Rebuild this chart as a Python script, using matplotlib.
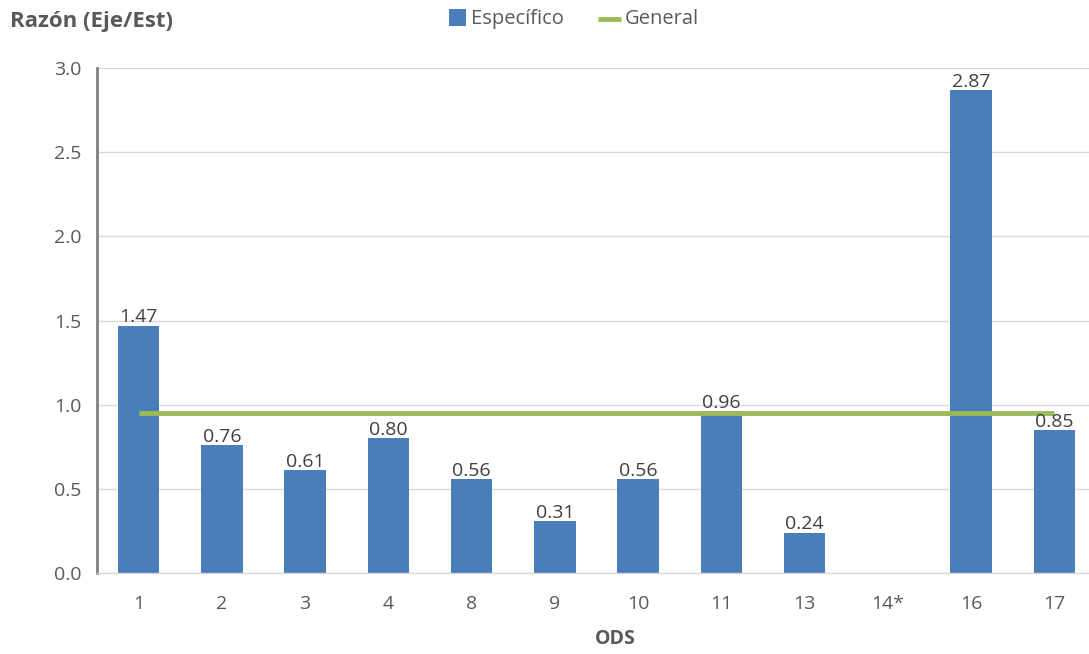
import matplotlib
matplotlib.use("Agg")
import matplotlib.pyplot as plt
from matplotlib.patches import Rectangle
from matplotlib.lines import Line2D
import numpy as np

categories = ["1", "2", "3", "4", "8", "9", "10", "11", "13", "14*", "16", "17"]
especifico = [1.47, 0.76, 0.61, 0.80, 0.56, 0.31, 0.56, 0.96, 0.24, np.nan, 2.87, 0.85]
general = 0.95

plt.rcParams['font.family'] = ['Open Sans', 'DejaVu Sans']

W, H = 1089, 654
fig = plt.figure(figsize=(W / 100, H / 100), dpi=100)
ax = fig.add_axes([97/W, 1 - 573/H, (1096 - 97)/W, (573 - 68)/H])

x = np.arange(len(categories))
vals = np.array(especifico, dtype=float)
bar_color = "#4A7EBB"
green = "#9BBB59"
ax.bar(x, np.nan_to_num(vals), width=0.5, color=bar_color, zorder=2)
for xi, v in zip(x, vals):
    if not np.isnan(v):
        ax.text(xi, v - 0.005, f"{v:.2f}", ha="center", va="bottom", fontsize=14,
                color="#404040", zorder=4)

ax.plot([x[0], x[-1]], [general, general], color=green, lw=3.5, zorder=3,
        solid_capstyle="butt")

ax.set_xlim(-0.5, len(categories) - 0.5)
ax.set_ylim(0, 3.0)
yt = np.arange(0, 3.01, 0.5)
ax.set_yticks(yt)
ax.set_yticklabels([f"{t:.1f}" for t in yt])
ax.set_xticks(x)
ax.set_xticklabels(categories)
ax.tick_params(axis="both", colors="#595959", labelsize=14, length=0)
ax.tick_params(axis="y", pad=11)
ax.tick_params(axis="x", pad=16)
ax.grid(axis="y", color="#D9D9D9", lw=1, zorder=0)
for s in ["top", "right"]:
    ax.spines[s].set_visible(False)
ax.spines["left"].set_color("#7F7F7F")
ax.spines["left"].set_linewidth(2)
ax.spines["bottom"].set_color("#D9D9D9")
ax.spines["bottom"].set_linewidth(1)

fig.text(10/W, 1 - 21/H, "Razón (Eje/Est)", fontsize=16, fontweight="bold",
         color="#595959", ha="left", va="center")
fig.text(615/W, 1 - 639/H, "ODS", fontsize=14, fontweight="bold",
         color="#595959", ha="center", va="center")

# legend drawn in figure pixel coordinates
fig.patches.append(Rectangle((449/W, 1 - 26/H), 17/W, 17/H, transform=fig.transFigure,
                             facecolor=bar_color, edgecolor="none"))
fig.text(471/W, 1 - 19/H, "Específico", fontsize=14.5, color="#595959",
         ha="left", va="center")
fig.lines.append(Line2D([598/W, 621/W], [1 - 19/H, 1 - 19/H], transform=fig.transFigure,
                        color=green, lw=3.5, solid_capstyle="butt"))
fig.text(625/W, 1 - 19/H, "General", fontsize=14.5, color="#595959",
         ha="left", va="center")

fig.savefig("out.png", dpi=100)
